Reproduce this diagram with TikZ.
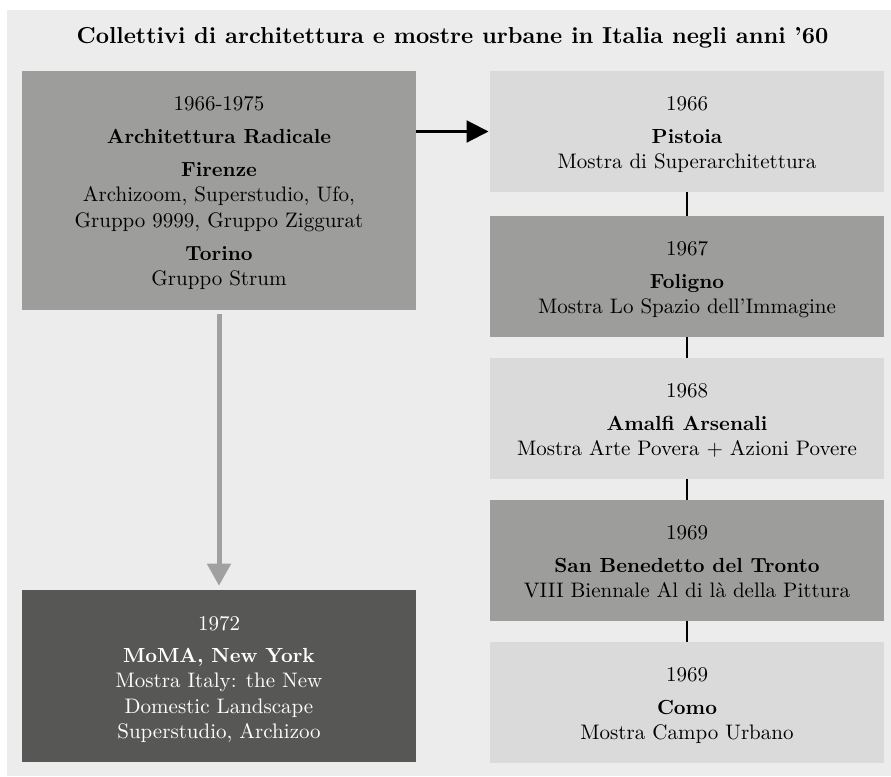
\documentclass[tikz,border=0pt]{standalone}
\usepackage{fontspec}
\setmainfont{lmroman10-regular}[Extension=.otf, BoldFont=lmroman10-bold, ItalicFont=lmroman10-italic]
\usetikzlibrary{arrows.meta}
\definecolor{bgc}{RGB}{236,236,236}
\definecolor{midc}{RGB}{157,157,156}
\definecolor{lightc}{RGB}{218,218,218}
\definecolor{darkc}{RGB}{87,87,86}
\definecolor{arrowgray}{RGB}{160,160,160}
\tikzset{
  panel/.style={draw=none, inner sep=0pt, outer sep=0pt, minimum width=394pt, anchor=north west},
  rbox/.style={panel, minimum height=121pt},
  label/.style={inner sep=0pt, outer sep=0pt, align=center, anchor=north, font=\fontsize{21}{25.5}\selectfont},
  link/.style={line width=2.3pt, black},
}
\newcommand{\fl}{\rule{0pt}{16pt}}
\newcommand{\hd}[1]{{\fontsize{20.4}{25.5}\selectfont\bfseries #1}}
\begin{document}
\begin{tikzpicture}[x=1pt, y=-1pt]
\useasboundingbox (0,0) rectangle (891,776);
\fill[bgc] (7,10) rectangle (891,776);

\node[inner sep=0pt, anchor=base, font=\fontsize{23.1}{28}\selectfont\bfseries] (title) at (452.5,43.3)
  {Collettivi di architettura e mostre urbane in Italia negli anni ’60};

% left column
\node[panel, fill=midc, minimum height=239pt] (A) at (22,71) {};
\node[label] (tA) at ([yshift=-23pt]A.north)
  {\fl 1966-1975\\[7.5pt]
   \hd{Architettura Radicale}\\[7.5pt]
   \hd{Firenze}\\
   Archizoom, Superstudio, Ufo,\\
   Gruppo 9999, Gruppo Ziggurat\\[7.5pt]
   \hd{Torino}\\
   Gruppo Strum};

\node[panel, fill=darkc, minimum height=172pt] (B) at (22,590) {};
\node[label, text=white] (tB) at ([yshift=-24pt]B.north)
  {\fl 1972\\[6.5pt]
   \hd{MoMA, New York}\\
   Mostra Italy: the New\\
   Domestic Landscape\\
   Superstudio, Archizoo};

% right column
\node[rbox, fill=lightc] (R1) at (490,71) {};
\node[label] (t1) at ([yshift=-23pt]R1.north)
  {\fl 1966\\[7.5pt]\hd{Pistoia}\\Mostra di Superarchitettura};

\node[rbox, fill=midc] (R2) at (490,216) {};
\node[label] (t2) at ([yshift=-23pt]R2.north)
  {\fl 1967\\[7.5pt]\hd{Foligno}\\Mostra Lo Spazio dell’Immagine};

\node[rbox, fill=lightc] (R3) at (490,358) {};
\node[label] (t3) at ([yshift=-23pt]R3.north)
  {\fl 1968\\[7.5pt]\hd{Amalfi Arsenali}\\Mostra Arte Povera + Azioni Povere};

\node[rbox, fill=midc] (R4) at (490,500) {};
\node[label] (t4) at ([yshift=-23pt]R4.north)
  {\fl 1969\\[7.5pt]\hd{San Benedetto del Tronto}\\VIII Biennale Al di là della Pittura};

\node[rbox, fill=lightc] (R5) at (490,642) {};
\node[label] (t5) at ([yshift=-23pt]R5.north)
  {\fl 1969\\[7.5pt]\hd{Como}\\Mostra Campo Urbano};

% connectors
\draw[link] (R1.south) -- (R2.north);
\draw[link] (R2.south) -- (R3.north);
\draw[link] (R3.south) -- (R4.north);
\draw[link] (R4.south) -- (R5.north);

\draw[link, -{Triangle[length=22pt, width=22pt]}, shorten >=1.5pt]
  (R1.west -| A.east) -- (R1.west);

\draw[arrowgray, line width=5pt, -{Triangle[length=22pt, width=23pt]}, shorten <=4pt, shorten >=4.3pt]
  (A.south) -- (B.north);
\end{tikzpicture}
\end{document}
